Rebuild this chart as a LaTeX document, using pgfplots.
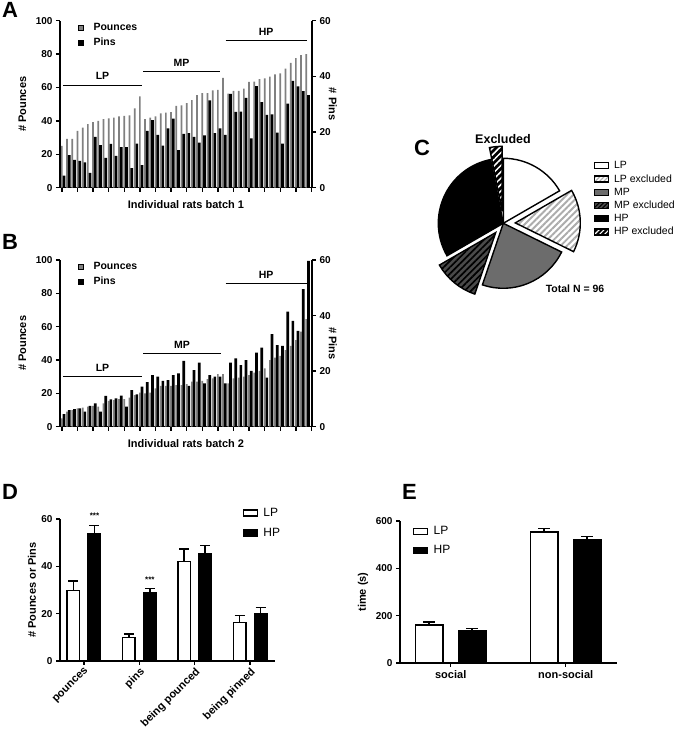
\documentclass[border=0pt]{standalone}
\usepackage{fontspec}
\setmainfont{Liberation Sans}
\usepackage{pgfplots}
\pgfplotsset{compat=1.18}
\usepackage{pgfplotstable}
\usetikzlibrary{patterns.meta}

\definecolor{pgray}{HTML}{808080}
\definecolor{mpgray}{HTML}{6C6C6C}
\definecolor{mpxgray}{HTML}{4A4A4A}
\newcommand{\fs}[1]{\fontsize{#1}{#1}\selectfont}

% batch 1: pounces (left axis) and pins (right axis) per rat
\pgfplotstableread{
rat pounces pins
1 25.0 4.3
2 29.3 11.7
3 29.3 10.0
4 34.0 9.6
5 36.0 9.1
6 38.0 5.3
7 39.3 18.3
8 40.0 15.3
9 41.0 10.7
10 41.5 15.7
11 42.0 11.4
12 42.7 14.6
13 43.0 14.6
14 43.3 7.0
15 47.5 15.8
16 54.7 8.1
17 41.0 20.4
18 42.0 24.3
19 42.7 19.0
20 44.5 15.1
21 45.0 21.3
22 45.3 24.8
23 49.0 13.5
24 49.3 19.3
25 50.7 19.6
26 52.5 18.3
27 55.5 16.2
28 56.7 18.8
29 56.7 31.4
30 58.3 19.6
31 58.5 21.3
32 65.7 19.0
33 56.3 33.7
34 57.9 27.2
35 57.9 27.3
36 59.3 32.3
37 63.3 17.7
38 63.5 36.5
39 65.0 30.7
40 65.5 26.2
41 66.5 26.3
42 67.9 19.8
43 68.5 15.8
44 71.3 30.2
45 74.7 38.4
46 77.6 36.4
47 79.4 34.7
48 80.0 33.3
}\ratsA

% batch 2
\pgfplotstableread{
rat pounces pins
1 5.0 4.5
2 9.0 6.0
3 10.0 6.3
4 11.0 6.6
5 11.5 5.4
6 12.0 7.5
7 12.5 8.4
8 12.0 5.4
9 14.0 11.1
10 15.5 9.8
11 16.0 10.2
12 16.5 11.2
13 16.5 7.2
14 17.5 13.2
15 19.0 11.6
16 20.5 14.4
17 20.0 16.0
18 20.5 18.6
19 23.0 18.0
20 24.5 16.5
21 24.5 16.8
22 24.5 18.6
23 25.0 19.2
24 25.0 23.7
25 25.5 14.7
26 27.0 20.4
27 27.0 23.1
28 27.5 15.6
29 28.5 18.6
30 29.0 18.0
31 31.5 18.0
32 31.5 15.6
33 26.0 23.1
34 29.0 24.6
35 29.5 22.2
36 30.0 24.0
37 31.0 20.1
38 32.5 26.7
39 33.5 28.5
40 35.0 17.7
41 40.0 33.3
42 41.5 29.4
43 42.5 29.1
44 46.0 41.4
45 48.5 38.1
46 52.0 34.5
47 57.0 49.5
48 64.5 59.7
}\ratsB

\pgfplotsset{
  prism/.style={
    scale only axis,
    axis line style={line width=1.5pt},
    tick style={line width=1.3pt, black},
    major tick length=4pt,
    tick align=outside,
    /pgf/number format/assume math mode=true,
    tick label style={font=\bfseries\fs{10}},
    label style={font=\bfseries\fs{11}},
    clip=false,
  },
  ratsleft/.style={
    prism, anchor=south west, width=252pt,
    axis x line*=bottom, axis y line*=left,
    xmin=0.385, xmax=48.85, ymin=0, ymax=100, ytick={0,20,...,100},
    xtick={0.75,3.75,...,49}, xticklabels={},
    ylabel={\# Pounces},
    ylabel style={at={(axis description cs:-0.149,0.5)}, anchor=center},
    legend style={at={(axis description cs:0.06,1.01)}, anchor=north west,
      draw=none, fill=none, font=\bfseries\fs{10.5}, row sep=2pt},
    legend cell align=left,
    legend image code/.code={\fill[##1] (0pt,-2.5pt) rectangle (5pt,2.5pt);
      \path[draw=none, fill=none] (0pt,0pt) -- (13pt,0pt);},
  },
  ratsright/.style={
    prism, anchor=south west, width=252pt,
    axis x line=none, axis y line*=right,
    xmin=0.385, xmax=48.85, ymin=0, ymax=60, ytick={0,20,40,60},
    ylabel={\# Pins},
    ylabel style={at={(axis description cs:1.083,0.5)}, anchor=center, rotate=180},
  },
  grouptick/.style={black, line width=1pt, forget plot},
  boxlegend/.style={legend image code/.code={%
    \draw[#1, line width=1.5pt] (0pt,-3pt) rectangle (14pt,3pt);
    \path[draw=none, fill=none] (0pt,0pt) -- (18pt,0pt);}},
  pielegend/.style={legend image code/.code={%
    \filldraw[#1, line width=1.2pt] (0pt,-3pt) rectangle (14pt,3pt);
    \path[draw=none, fill=none] (0pt,0pt) -- (18pt,0pt);}},
}

% pie slice counts (Total N = 96)
\pgfmathsetmacro\aLP{90}
\pgfmathsetmacro\aLPx{\aLP-360*16/96}
\pgfmathsetmacro\aMP{\aLPx-360*15/96}
\pgfmathsetmacro\aMPx{\aMP-360*22/96}
\pgfmathsetmacro\aHP{\aMPx-360*11/96}
\pgfmathsetmacro\aHPx{\aHP-360*29/96}
\pgfmathsetmacro\aEnd{\aHPx-360*3/96}

\newcommand{\pieslice}[4]{%
  \filldraw[#4] (axis cs:{#3*cos((#1+#2)/2)},{#3*sin((#1+#2)/2)})
    -- ++(#1:65pt) arc[start angle=#1, end angle=#2, radius=65pt] -- cycle;}

\begin{document}
\begin{tikzpicture}
\useasboundingbox (0,0) rectangle (676pt,730pt);

% ---------------- A ----------------
\begin{axis}[ratsleft, at={(60pt,542.3pt)}, height=167pt,
  xlabel={Individual rats batch 1},
  xlabel style={at={(axis description cs:0.5,-0.104)}, anchor=center}]
\addplot[ybar, bar width=1.7pt, bar shift=-1.3pt, fill=pgray, draw=none, forget plot]
  table[x=rat, y=pounces] {\ratsA};
\addplot[grouptick] coordinates {(0.96,61.3) (16.15,61.3)} node[pos=0.5, above=1.5pt, font=\bfseries\fs{10.5}] {LP};
\addplot[grouptick] coordinates {(16.35,69.3) (31.2,69.3)} node[pos=0.5, above=1.5pt, font=\bfseries\fs{10.5}] {MP};
\addplot[grouptick] coordinates {(32.25,88) (47.8,88)} node[pos=0.5, above=1.5pt, font=\bfseries\fs{10.5}] {HP};
\addlegendimage{fill=pgray}
\addlegendentry{Pounces}
\addlegendimage{fill=black}
\addlegendentry{Pins}
\end{axis}
\begin{axis}[ratsright, at={(60pt,542.3pt)}, height=167pt]
\addplot[ybar, bar width=2.7pt, bar shift=0.9pt, fill=black, draw=none]
  table[x=rat, y=pins] {\ratsA};
\end{axis}

% ---------------- B ----------------
\begin{axis}[ratsleft, at={(60pt,303.3pt)}, height=166.7pt,
  xlabel={Individual rats batch 2},
  xlabel style={at={(axis description cs:0.5,-0.104)}, anchor=center}]
\addplot[ybar, bar width=1.7pt, bar shift=-1.3pt, fill=pgray, draw=none, forget plot]
  table[x=rat, y=pounces] {\ratsB};
\addplot[grouptick] coordinates {(0.96,30.2) (16.15,30.2)} node[pos=0.5, above=1.5pt, font=\bfseries\fs{10.5}] {LP};
\addplot[grouptick] coordinates {(16.35,44) (31.3,44)} node[pos=0.5, above=1.5pt, font=\bfseries\fs{10.5}] {MP};
\addplot[grouptick] coordinates {(32.25,85.6) (47.8,85.6)} node[pos=0.5, above=1.5pt, font=\bfseries\fs{10.5}] {HP};
\addlegendimage{fill=pgray}
\addlegendentry{Pounces}
\addlegendimage{fill=black}
\addlegendentry{Pins}
\end{axis}
\begin{axis}[ratsright, at={(60pt,303.3pt)}, height=166.7pt]
\addplot[ybar, bar width=2.7pt, bar shift=0.9pt, fill=black, draw=none]
  table[x=rat, y=pins] {\ratsB};
\end{axis}

% ---------------- C (pie) ----------------
\begin{axis}[hide axis, scale only axis, clip=false, width=200pt, height=200pt,
  at={(503.3pt,506.7pt)}, anchor=center,
  xmin=-100, xmax=100, ymin=-100, ymax=100,
  legend style={at={(axis description cs:0.935,0.83)}, anchor=north west,
    draw=none, fill=none, font=\fs{10.5}, row sep=0.3pt},
  legend cell align=left]
\pieslice{\aLP}{\aLPx}{0}{fill=white, draw=black, line width=1.4pt}
\pieslice{\aLPx}{\aMP}{12}{preaction={fill=white}, pattern={Lines[angle=45,distance=4.5pt,line width=1.9pt]}, pattern color=gray!65, draw=black, line width=1.4pt}
\pieslice{\aMP}{\aMPx}{0}{fill=mpgray, draw=black, line width=1.4pt}
\pieslice{\aMPx}{\aHP}{12}{preaction={fill=mpxgray}, pattern={Lines[angle=45,distance=4.5pt,line width=1.7pt]}, pattern color=black, draw=black, line width=1.4pt}
\pieslice{\aHP}{\aHPx}{0}{fill=black, draw=black, line width=1.4pt}
\pieslice{\aHPx}{\aEnd}{12}{preaction={fill=black}, pattern={Lines[angle=45,distance=4.5pt,line width=1.5pt]}, pattern color=white, draw=black, line width=1.4pt}
\addlegendimage{pielegend={fill=white}}
\addlegendentry{LP}
\addlegendimage{pielegend={preaction={fill=white}, pattern={Lines[angle=45,distance=3pt,line width=1.1pt]}, pattern color=gray!65}}
\addlegendentry{LP excluded}
\addlegendimage{pielegend={fill=mpgray}}
\addlegendentry{MP}
\addlegendimage{pielegend={preaction={fill=mpxgray}, pattern={Lines[angle=45,distance=3pt,line width=1.1pt]}, pattern color=black}}
\addlegendentry{MP excluded}
\addlegendimage{pielegend={fill=black}}
\addlegendentry{HP}
\addlegendimage{pielegend={preaction={fill=black}, pattern={Lines[angle=45,distance=3.5pt,line width=1.1pt]}, pattern color=white}}
\addlegendentry{HP excluded}
\end{axis}
\node[font=\bfseries\fs{12.5}] at (503pt,591pt) {Excluded};
\node[font=\bfseries\fs{10.5}] at (575pt,441pt) {Total N = 96};

% ---------------- D ----------------
% bars at category -/+ 0.19 (LP / HP)
\begin{axis}[prism, at={(60pt,69pt)}, anchor=south west, width=215pt, height=142pt,
  axis x line*=bottom, axis y line*=left,
  xmin=-0.433, xmax=3.45, ymin=0, ymax=60, ytick={0,20,40,60},
  xtick={0,1,2,3}, xticklabels={pounces,pins,being pounced,being pinned},
  xticklabel style={rotate=45, anchor=north east, inner sep=1pt, font=\bfseries\fs{11}},
  ylabel={\# Pounces or Pins},
  ylabel style={at={(axis description cs:-0.130,0.5)}, anchor=center},
  legend style={at={(axis description cs:0.835,1.105)}, anchor=north west,
    draw=none, fill=none, font=\fs{12}, row sep=6pt},
  legend cell align=left,
  error bars/error bar style={line width=1.5pt, black},
  error bars/error mark options={rotate=90, mark size=5pt, line width=1.5pt, black}]
\addplot[ybar, bar width=12.5pt, bar shift=0pt, fill=white, draw=black, line width=1.5pt, forget plot,
  error bars/.cd, y dir=plus, y explicit]
  coordinates {(-0.19,29.7) +- (0,4.1) (0.81,10.0) +- (0,1.5) (1.81,42.1) +- (0,5.2) (2.81,16.3) +- (0,2.9)};
\addplot[ybar, bar width=12.5pt, bar shift=0pt, fill=black, draw=black, line width=1.5pt, forget plot,
  error bars/.cd, y dir=plus, y explicit]
  coordinates {(0.19,53.7) +- (0,3.5) (1.19,28.9) +- (0,1.8) (2.19,45.4) +- (0,3.3) (3.19,20.1) +- (0,2.4)};
\node[font=\bfseries\fs{8}] at (axis cs:0.19,61.2) {***};
\node[font=\bfseries\fs{8}] at (axis cs:1.19,34.3) {***};
\addlegendimage{boxlegend={fill=white}}
\addlegendentry{LP}
\addlegendimage{boxlegend={fill=black}}
\addlegendentry{HP}
\end{axis}

% ---------------- E ----------------
% bars at category -/+ 0.187 (LP / HP)
\begin{axis}[prism, at={(400pt,67pt)}, anchor=south west, width=217pt, height=142pt,
  axis x line*=bottom, axis y line*=left,
  xmin=-0.441, xmax=1.446, ymin=0, ymax=600, ytick={0,200,400,600},
  xtick={0,1}, xticklabels={social,non-social},
  xticklabel style={font=\bfseries\fs{11}},
  ylabel={time (s)},
  ylabel style={at={(axis description cs:-0.170,0.5)}, anchor=center},
  legend style={at={(axis description cs:0.045,0.99)}, anchor=north west,
    draw=none, fill=none, font=\fs{12}, row sep=5pt},
  legend cell align=left,
  error bars/error bar style={line width=1.5pt, black},
  error bars/error mark options={rotate=90, mark size=6pt, line width=1.5pt, black}]
\addplot[ybar, bar width=27.6pt, bar shift=0pt, fill=white, draw=black, line width=1.5pt, forget plot,
  error bars/.cd, y dir=plus, y explicit]
  coordinates {(-0.187,160) +- (0,14) (0.813,553) +- (0,15)};
\addplot[ybar, bar width=27.6pt, bar shift=0pt, fill=black, draw=black, line width=1.5pt, forget plot,
  error bars/.cd, y dir=plus, y explicit]
  coordinates {(0.187,135) +- (0,11) (1.187,522) +- (0,12)};
\addlegendimage{boxlegend={fill=white}}
\addlegendentry{LP}
\addlegendimage{boxlegend={fill=black}}
\addlegendentry{HP}
\end{axis}

% panel letters
\node[font=\bfseries\fs{22}] at (10pt,720pt) {A};
\node[font=\bfseries\fs{22}] at (10pt,488pt) {B};
\node[font=\bfseries\fs{22}] at (422pt,582.5pt) {C};
\node[font=\bfseries\fs{22}] at (10pt,238.5pt) {D};
\node[font=\bfseries\fs{22}] at (409.5pt,238.5pt) {E};
\end{tikzpicture}
\end{document}
